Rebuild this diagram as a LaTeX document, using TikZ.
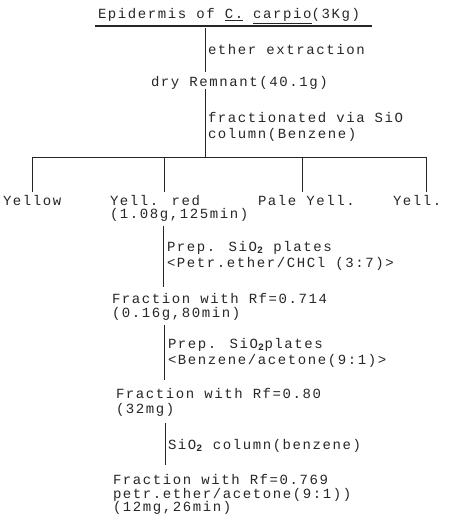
\documentclass[tikz,border=0pt]{standalone}
\usepackage{fontspec}
\newfontfamily\twfont[LetterSpace=11.4]{Liberation Mono}
\tikzset{
  txt/.style={anchor=base west, inner sep=0pt, outer sep=0pt, font=\twfont\fontsize{14}{13}\selectfont, text=black!85},
  ln/.style={line width=1pt, black!85},
}
\newcommand{\sub}[1]{\textsubscript{\bfseries #1}}
\begin{document}
\begin{tikzpicture}[x=1pt,y=-1pt]
\useasboundingbox (0,0) rectangle (459,514);
% title
\node[txt] (title) at (98,19) {Epidermis of \underline{C.} \underline{carpio}(3Kg)};
\coordinate (ulA) at (95,26); \coordinate (ulB) at (372,26);
\draw[line width=1.4pt, black!85] (ulA) -- (ulB);
% step 1
\coordinate (v1a) at (205,28); \coordinate (v1b) at (205,72);
\draw[ln] (v1a) -- (v1b);
\node[txt] (ether) at (208,54) {ether extraction};
\node[txt] (dry) at (151,86) {dry Remnant(40.1g)};
% step 2
\coordinate (v2a) at (205,89); \coordinate (v2b) at (205,157);
\draw[ln] (v2a) -- (v2b);
\node[txt] (frac1) at (208,122) {fractionated via SiO};
\node[txt] (frac2) at (208,138) {column(Benzene)};
% split
\coordinate (hA) at (32,157); \coordinate (hB) at (426,157);
\coordinate (dA) at (32,192); \coordinate (hC) at (164,157); \coordinate (dC) at (164,192);
\coordinate (hD) at (302,157); \coordinate (dD) at (302,192); \coordinate (dB) at (426,192);
\draw[ln] (dA) -- (hA) -- (hB) -- (dB);
\draw[ln] (hC) -- (dC);
\draw[ln] (hD) -- (dD);
\node[txt] (yellow) at (3,205) {Yellow};
\node[txt] (yellred) at (110,205) {Yell. red};
\node[txt] (yellred2) at (110,218) {(1.08g,125min)};
\node[txt] (pale) at (258,205) {Pale Yell.};
\node[txt] (yell) at (393,205) {Yell.};
% step 3
\coordinate (v3a) at (163,226); \coordinate (v3b) at (163,287);
\draw[ln] (v3a) -- (v3b);
\node[txt] (prep1) at (167,251) {Prep. SiO\sub{2} plates};
\node[txt] (prep1b) at (167,267) {<Petr.ether/CHCl (3:7)>};
\node[txt] (f714) at (112,303) {Fraction with Rf=0.714};
\node[txt] (f714b) at (112,317) {(0.16g,80min)};
% step 4
\coordinate (v4a) at (164,325); \coordinate (v4b) at (164,380);
\draw[ln] (v4a) -- (v4b);
\node[txt] (prep2) at (168,348) {Prep. SiO\sub{2}plates};
\node[txt] (prep2b) at (168,364) {<Benzene/acetone(9:1)>};
\node[txt] (f80) at (116,398) {Fraction with Rf=0.80};
\node[txt] (f80b) at (116,413) {(32mg)};
% step 5
\coordinate (v5a) at (165,423); \coordinate (v5b) at (165,465);
\draw[ln] (v5a) -- (v5b);
\node[txt] (col) at (168,449) {SiO\sub{2} column(benzene)};
\node[txt] (f769) at (113,484) {Fraction with Rf=0.769};
\node[txt] (f769b) at (113,498) {petr.ether/acetone(9:1))};
\node[txt] (f769c) at (113,511) {(12mg,26min)};
\end{tikzpicture}
\end{document}
